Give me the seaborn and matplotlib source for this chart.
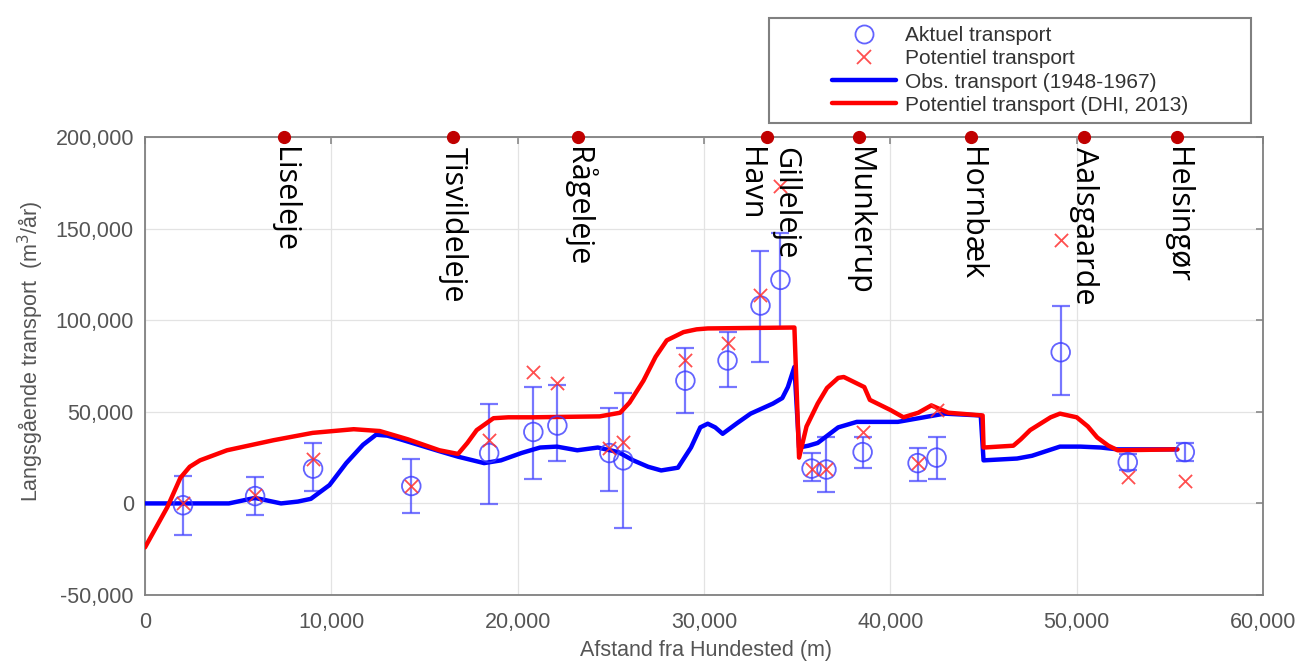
import numpy as np
import matplotlib.pyplot as plt
import pandas as pd
import seaborn as sns
from matplotlib.ticker import FuncFormatter, MultipleLocator
from matplotlib.lines import Line2D
from matplotlib.legend_handler import HandlerLine2D

# stations: distance from Hundested [m] and transport [m3/aar]
st_x = [2040, 5910, 9020, 14290, 18470, 20840, 22130, 24920, 25670, 29000, 31260,
        33030, 34100, 35770, 36570, 38510, 41460, 42480, 49140, 52740, 55800]
akt = [-1000, 4000, 19000, 9500, 27500, 39000, 42500, 27500, 23500, 67000, 78000,
       108000, 122000, 19000, 18500, 28000, 22000, 25000, 82500, 22500, 28000]
akt_hi = [15000, 14500, 33000, 24000, 54000, 63500, 64500, 52000, 60500, 85000, 93500,
          138000, 147500, 27500, 36000, 36000, 30500, 36500, 108000, 27000, 33000]
akt_lo = [-17000, -6500, 7000, -5500, -500, 13500, 23000, 7000, -13500, 49500, 63500,
          77000, 95500, 12500, 6000, 19500, 12500, 13500, 59000, 18000, 23000]
pot = [0, 4500, 24500, 9500, 34500, 71500, 65500, 30000, 33500, 78000, 87500,
       114000, 173000, 19000, 19000, 39000, 22000, 51000, 144000, 14500, 12500]

# observed transport 1948-1967
obs_x = [0, 4500, 5200, 5900, 6600, 7300, 8200, 8900, 9900, 10800, 11700, 12400, 13000,
         13700, 15800, 16800, 18200, 19100, 20200, 21200, 22100, 23200, 24300, 25400,
         26200, 27000, 27700, 28600, 29300, 29800, 30200, 30600, 31000, 31800, 32500,
         33700, 34200, 34500, 34850, 35100, 35600, 36100, 37200, 38200, 40400, 41800,
         42900, 44850, 45000, 46800, 47600, 48200, 49100, 50200, 51300, 52200, 55400]
obs_y = [0, 0, 1500, 3000, 1500, 0, 1000, 2500, 10000, 22000, 32000, 37500, 37000,
         35000, 28500, 25500, 22000, 23500, 27500, 30500, 31000, 29000, 30500, 28000,
         23500, 20000, 18000, 19500, 30500, 41500, 43500, 41500, 38000, 44000, 49000,
         54500, 57500, 63500, 74500, 30500, 31500, 33000, 41500, 44500, 44500, 47000,
         49000, 48000, 23500, 24500, 26000, 28000, 31000, 31000, 30500, 29500, 29500]

# potential transport (DHI, 2013)
dhi_x = [0, 1200, 1900, 2400, 2950, 4400, 6900, 9000, 11200, 12600, 14100, 15800, 16800,
         17300, 17800, 18700, 19500, 20800, 24400, 25500, 26000, 26750, 27400, 28000,
         28900, 29600, 30200, 34850, 35100, 35500, 36100, 36600, 37200, 37500, 37900,
         38600, 38900, 40000, 40700, 41500, 42200, 43100, 44950, 45000, 46600, 47000,
         47500, 48600, 49100, 50000, 50600, 51100, 51700, 52200, 55400]
dhi_y = [-24000, -2000, 14000, 20000, 23500, 29000, 34500, 38500, 40500, 39500, 35000,
         29000, 27000, 33000, 40000, 46500, 47000, 47000, 47500, 49500, 55000, 67000,
         80000, 89000, 93500, 95000, 95500, 96000, 25000, 42000, 54500, 63000, 68500,
         69000, 67000, 63500, 56500, 51000, 47000, 49500, 53500, 49500, 48000, 30500,
         31500, 35000, 40000, 47000, 49000, 47000, 42000, 36000, 31500, 29000, 29500]

towns = ["Liseleje", "Tisvildeleje", "Rågeleje", "Gilleleje\nHavn", "Munkerup",
         "Hornbæk", "Aalsgaarde", "Helsingør"]
town_x = [7470, 16540, 23250, 33400, 38290, 44310, 50380, 55370]


class ShiftedHandler(HandlerLine2D):
    # draw the legend symbol only in the right part of the handle box
    def create_artists(self, legend, orig_handle, xdescent, ydescent, width, height, fontsize, trans):
        shift = width * 0.46
        return super().create_artists(legend, orig_handle, xdescent - shift, ydescent,
                                      width - shift, height, fontsize, trans)


sns.set_theme(style="white")
plt.rcParams['font.family'] = ['Liberation Sans', 'DejaVu Sans']

fig = plt.figure(figsize=(13.04, 6.61), dpi=100)
ax = fig.add_axes([0.1112, 0.0998, 0.8574, 0.693])

stations = pd.DataFrame({"x": st_x, "akt": akt, "hi": akt_hi, "lo": akt_lo, "pot": pot})
obs = pd.DataFrame({"x": obs_x, "y": obs_y})
dhi = pd.DataFrame({"x": dhi_x, "y": dhi_y})

err = [stations["akt"] - stations["lo"], stations["hi"] - stations["akt"]]
ax.errorbar(stations["x"], stations["akt"], yerr=err, fmt='none', ecolor='#4a4aff',
            elinewidth=1.6, capsize=6.5, capthick=1.6, alpha=0.75, zorder=2)

sns.lineplot(data=obs, x="x", y="y", estimator=None, sort=False, color='#0000ff',
             linewidth=3.2, ax=ax, zorder=3)
sns.lineplot(data=dhi, x="x", y="y", estimator=None, sort=False, color='#ff0000',
             linewidth=3.2, ax=ax, zorder=3)

sns.scatterplot(data=stations, x="x", y="akt", marker='o', s=180, fc='none',
                ec='#3c3cff', linewidth=1.3, alpha=0.8, ax=ax, zorder=4)
sns.scatterplot(data=stations, x="x", y="pot", marker='x', s=90, color='#ff3030',
                linewidth=1.3, alpha=0.85, ax=ax, zorder=5)

# towns along the coast
ax.plot(town_x, [200000] * len(town_x), 'o', color='#c00000', ms=8.5,
        clip_on=False, zorder=6)
for name, tx in zip(towns, town_x):
    ax.annotate(name, xy=(tx, 200000), xytext=(0, -7), textcoords='offset points',
                rotation=270, ha='center', va='top', multialignment='left',
                fontsize=22, family=['Open Sans', 'DejaVu Sans'], color='black',
                zorder=7)

ax.set_xlim(0, 60000)
ax.set_ylim(-50000, 200000)
ax.xaxis.set_major_locator(MultipleLocator(10000))
ax.yaxis.set_major_locator(MultipleLocator(50000))
fmt = FuncFormatter(lambda v, p: f"{int(round(v)):,}")
ax.xaxis.set_major_formatter(fmt)
ax.yaxis.set_major_formatter(fmt)
ax.grid(True, color='#e3e3e3', linewidth=0.9)
ax.set_axisbelow(True)
for s in ax.spines.values():
    s.set_color('#808080')
    s.set_linewidth(1.3)
ax.tick_params(direction='in', length=5, width=1.1, top=True, right=True,
               colors='#808080', labelcolor='#555555', labelsize=15.5)
ax.tick_params(axis='x', pad=12)
ax.tick_params(axis='y', pad=8)

ax.set_xlabel("Afstand fra Hundested (m)", fontsize=15.5, color='#555555')
ax.set_ylabel("Langsgående transport  (m$^3$/år)", fontsize=15.5, color='#555555')
ax.xaxis.set_label_coords(0.502, -0.122)
ax.xaxis.label.set_va('center')
ax.yaxis.set_label_coords(-0.102, 0.531)
ax.yaxis.label.set_va('center')

handles = [
    Line2D([], [], ls='none', marker='o', ms=13, mfc='none', mec='#3c3cff', mew=1.3, alpha=0.8),
    Line2D([], [], ls='none', marker='x', ms=9.5, color='#ff3030', mew=1.3, alpha=0.85),
    Line2D([], [], color='#0000ff', lw=3.2),
    Line2D([], [], color='#ff0000', lw=3.2),
]
labels = ["Aktuel transport", "Potentiel transport", "Obs. transport (1948-1967)",
          "Potentiel transport (DHI, 2013)"]
leg = ax.legend(handles, labels, loc='upper left', mode='expand',
                bbox_to_anchor=(0.590, 0.800, 0.369, 0.173), bbox_transform=fig.transFigure,
                fontsize=15, frameon=True, fancybox=False, framealpha=1, edgecolor='#808080',
                borderpad=0.4, labelspacing=0.2, handlelength=5.7, handletextpad=0.4,
                borderaxespad=0, numpoints=1,
                handler_map={Line2D: ShiftedHandler()})
leg.get_frame().set_linewidth(1.5)
for t in leg.get_texts():
    t.set_color('#333333')

fig.savefig("out.png", dpi=100)
